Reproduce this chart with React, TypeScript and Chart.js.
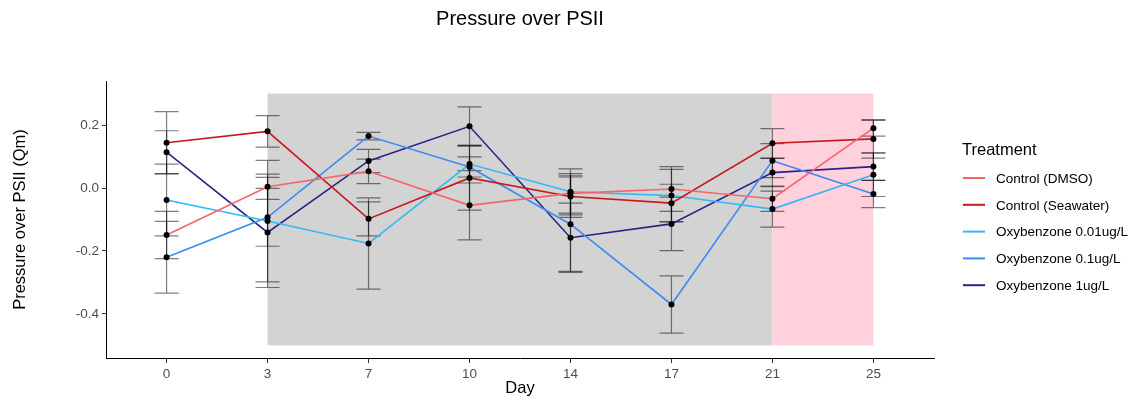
import React, { useEffect, useRef } from "react";
import { Chart, registerables } from "chart.js";

Chart.register(...registerables);

// ---------- data ----------
const days = ["0", "3", "7", "10", "14", "17", "21", "25"];
const yTicks = [-0.4, -0.2, 0.0, 0.2];

const treatments = [
  "Control (DMSO)",
  "Control (Seawater)",
  "Oxybenzone 0.01ug/L",
  "Oxybenzone 0.1ug/L",
  "Oxybenzone 1ug/L",
];

const dmso = [-0.149, 0.004, 0.053, -0.055, -0.017, -0.003, -0.034, 0.19];
const dmsoSe = [0.075, 0.04, 0.039, 0.11, 0.063, 0.071, 0.04, 0.025];
const seawater = [0.144, 0.18, -0.098, 0.032, -0.027, -0.048, 0.142, 0.156];
const seawaterSe = [0.099, 0.05, 0.054, 0.102, 0.066, 0.06, 0.047, 0.061];
const oxy001 = [-0.038, -0.105, -0.176, 0.076, -0.012, -0.024, -0.067, 0.042];
const oxy001Se = [0.114, 0.193, 0.145, 0.06, 0.073, 0.083, 0.057, 0.069];
const oxy01 = [-0.22, -0.093, 0.165, 0.067, -0.115, -0.37, 0.087, -0.019];
const oxy01Se = [0.114, 0.092, 0.012, 0.032, 0.15, 0.091, 0.054, 0.043];
const oxy1 = [0.114, -0.141, 0.086, 0.196, -0.158, -0.114, 0.049, 0.068];
const oxy1Se = [0.068, 0.175, 0.037, 0.062, 0.11, 0.085, 0.045, 0.044];

const seriesValues = [dmso, seawater, oxy001, oxy01, oxy1];
const seriesErrors = [dmsoSe, seawaterSe, oxy001Se, oxy01Se, oxy1Se];
const seriesColors = ["#F8636B", "#C8161D", "#33B8F5", "#3B8BF3", "#25258A"];

// shaded periods (category from, category to, y from, y to)
const shadeFrom = ["3", "21"];
const shadeTo = ["21", "25"];
const shadeYMin = [-0.5, -0.5];
const shadeYMax = [0.3, 0.3];
const shadeColors = ["#D3D3D3", "#FFD1DC"];

const FONT = '"Liberation Sans", Arial, Helvetica, sans-serif';

const customPlugin = {
  id: "ggDecor",
  beforeDatasetsDraw(chart: any) {
    const { ctx, scales } = chart;
    const xs = scales.x;
    const ys = scales.y;
    ctx.save();
    // shaded rectangles
    for (let i = 0; i < shadeFrom.length; i++) {
      const x0 = xs.getPixelForValue(days.indexOf(shadeFrom[i]));
      const x1 = xs.getPixelForValue(days.indexOf(shadeTo[i]));
      const y0 = ys.getPixelForValue(shadeYMax[i]);
      const y1 = ys.getPixelForValue(shadeYMin[i]);
      ctx.fillStyle = shadeColors[i];
      ctx.fillRect(x0, y0, x1 - x0, y1 - y0);
    }
    // error bars
    ctx.strokeStyle = "rgba(0,0,0,0.5)";
    ctx.lineWidth = 1.2;
    const cap = 12;
    for (let s = 0; s < seriesValues.length; s++) {
      const vals = seriesValues[s];
      const errs = seriesErrors[s];
      for (let i = 0; i < vals.length; i++) {
        const px = xs.getPixelForValue(i);
        const yTop = ys.getPixelForValue(vals[i] + errs[i]);
        const yBot = ys.getPixelForValue(vals[i] - errs[i]);
        ctx.beginPath();
        ctx.moveTo(px, yTop);
        ctx.lineTo(px, yBot);
        ctx.moveTo(px - cap, yTop);
        ctx.lineTo(px + cap, yTop);
        ctx.moveTo(px - cap, yBot);
        ctx.lineTo(px + cap, yBot);
        ctx.stroke();
      }
    }
    ctx.restore();
  },
  afterDraw(chart: any) {
    const { ctx, chartArea } = chart;
    ctx.save();
    // plot title
    ctx.fillStyle = "#000";
    ctx.font = `20px ${FONT}`;
    ctx.textAlign = "center";
    ctx.textBaseline = "alphabetic";
    ctx.fillText("Pressure over PSII", (chartArea.left + chartArea.right) / 2, 24.5);
    // legend
    ctx.textAlign = "left";
    ctx.font = `16.5px ${FONT}`;
    ctx.fillText("Treatment", 962, 155);
    ctx.font = `13.5px ${FONT}`;
    for (let i = 0; i < treatments.length; i++) {
      const y = 178 + i * 26.8;
      ctx.strokeStyle = seriesColors[i];
      ctx.lineWidth = 2;
      ctx.beginPath();
      ctx.moveTo(963, y);
      ctx.lineTo(985, y);
      ctx.stroke();
      ctx.fillStyle = "#000";
      ctx.fillText(treatments[i], 996, y + 4.8);
    }
    ctx.restore();
  },
};

export default function App() {
  const canvasRef = useRef<HTMLCanvasElement | null>(null);

  useEffect(() => {
    if (!canvasRef.current) return;
    const lineSets = seriesValues.map((vals, s) => ({
      label: treatments[s],
      data: vals.map((v, i) => ({ x: i, y: v })),
      borderColor: seriesColors[s],
      backgroundColor: seriesColors[s],
      borderWidth: 1.6,
      pointRadius: 0,
      fill: false,
      tension: 0,
      order: 2,
    }));
    const pointSets = seriesValues.map((vals, s) => ({
      label: treatments[s] + " points",
      data: vals.map((v, i) => ({ x: i, y: v })),
      showLine: false,
      borderColor: "#000",
      backgroundColor: "#000",
      pointRadius: 3,
      pointBorderWidth: 0,
      order: 1,
    }));

    const chart = new Chart(canvasRef.current, {
      type: "line",
      data: { datasets: [...lineSets, ...pointSets] as any },
      options: {
        animation: false,
        responsive: false,
        maintainAspectRatio: false,
        layout: { padding: { top: 81, right: 201, left: 0, bottom: 0 } },
        plugins: {
          legend: { display: false },
          tooltip: { enabled: false },
          title: { display: false },
        },
        scales: {
          x: {
            type: "linear",
            min: -0.6,
            max: 7.6,
            afterBuildTicks: (s: any) => {
              s.ticks = days.map((_, i) => ({ value: i }));
            },
            afterFit: (s: any) => {
              s.height = 44;
            },
            ticks: {
              autoSkip: false,
              maxRotation: 0,
              callback: (v: any) => days[v as number],
              font: { family: FONT, size: 13.5 },
              color: "#4D4D4D",
              padding: 3,
            },
            grid: {
              display: true,
              drawOnChartArea: false,
              drawTicks: true,
              tickLength: 5,
              color: "#333333",
            },
            border: { display: true, color: "#000", width: 1 },
            title: {
              display: true,
              text: "Day",
              color: "#000",
              font: { family: FONT, size: 16.5 },
              padding: { top: 0, bottom: 3.3 },
            },
          },
          y: {
            type: "linear",
            min: -0.54,
            max: 0.34,
            afterBuildTicks: (s: any) => {
              s.ticks = yTicks.map((v) => ({ value: v }));
            },
            afterFit: (s: any) => {
              s.width = 106;
            },
            ticks: {
              autoSkip: false,
              callback: (v: any) => Number(v).toFixed(1),
              font: { family: FONT, size: 13.5 },
              color: "#4D4D4D",
              padding: 3,
            },
            grid: {
              display: true,
              drawOnChartArea: false,
              drawTicks: true,
              tickLength: 4,
              color: "#333333",
            },
            border: { display: true, color: "#000", width: 1 },
            title: {
              display: true,
              text: "Pressure over PSII (Qm)",
              color: "#000",
              font: { family: FONT, size: 16.5 },
              padding: { top: 10.6, bottom: 0 },
            },
          },
        },
      },
      plugins: [customPlugin],
    });
    return () => chart.destroy();
  }, []);

  return (
    <div style={{ width: 1135, height: 402 }}>
      <style>{`body{margin:0;}`}</style>
      <canvas ref={canvasRef} width={1135} height={402} style={{ display: "block" }} />
    </div>
  );
}
